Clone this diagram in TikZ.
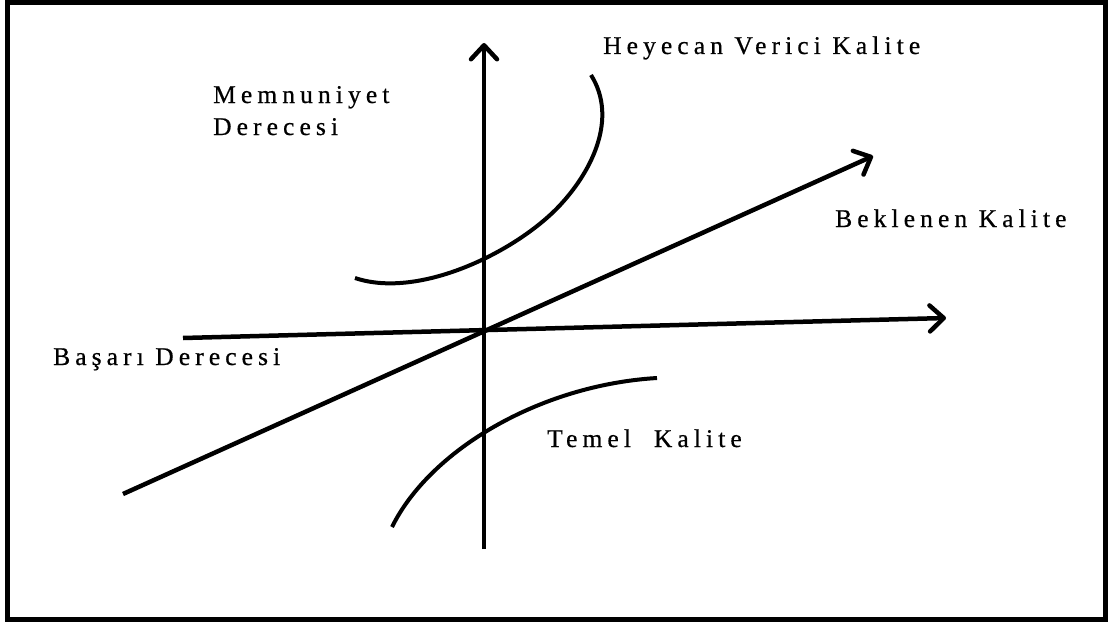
\documentclass[tikz,border=0pt]{standalone}
\usepackage{fontspec}
\setmainfont{Liberation Serif}
\usetikzlibrary{arrows.meta}
\newfontfamily\lblfont[LetterSpace=20,FakeBold=0.6]{Liberation Serif}
\begin{document}
\begin{tikzpicture}[x=1pt,y=-1pt,
  lbl/.style={anchor=base west,inner sep=0pt,font=\lblfont\fontsize{25.5}{32}\selectfont},
  axis/.style={line width=4.5pt,-{Straight Barb[length=14pt,width=26pt,line cap=round,line join=round]}},
  curve/.style={line width=4pt}]
\useasboundingbox (0,0) rectangle (1113,626);
\fill[white] (0,0) rectangle (1113,626);
\draw[line width=5pt] (7.5,2.5) rectangle (1105.5,619.5);
% axes
\coordinate (vb) at (484,549);
\coordinate (vt) at (484,43);
\coordinate (hl) at (183,338);
\coordinate (hr) at (946,318);
\coordinate (dl) at (123,494);
\coordinate (dr) at (873,156);
\draw[axis] (vb) -- (vt);
\draw[axis] (hl) -- (hr);
\draw[axis] (dl) -- (dr);
% curves
\coordinate (u1) at (355,278);
\coordinate (u2) at (562,203);
\coordinate (u3) at (591,75);
\draw[curve] (u1) .. controls (420,300) and (520,250) .. (u2)
                  .. controls (592,170) and (618,118) .. (u3);
\coordinate (l1) at (392,527);
\coordinate (l2) at (657,378);
\draw[curve] (l1) .. controls (430,450) and (540,385) .. (l2);
% labels
\node[lbl] (mem) at (213,103) {Memnuniyet};
\node[lbl] (der) at (213,135) {Derecesi};
\node[lbl] (hey) at (603,54) {Heyecan Verici Kalite};
\node[lbl] (bek) at (835,227) {Beklenen Kalite};
\node[lbl] (bas) at (53,365) {Başarı Derecesi};
\node[lbl] (tem) at (547,447) {Temel\ \ Kalite};
\end{tikzpicture}
\end{document}
